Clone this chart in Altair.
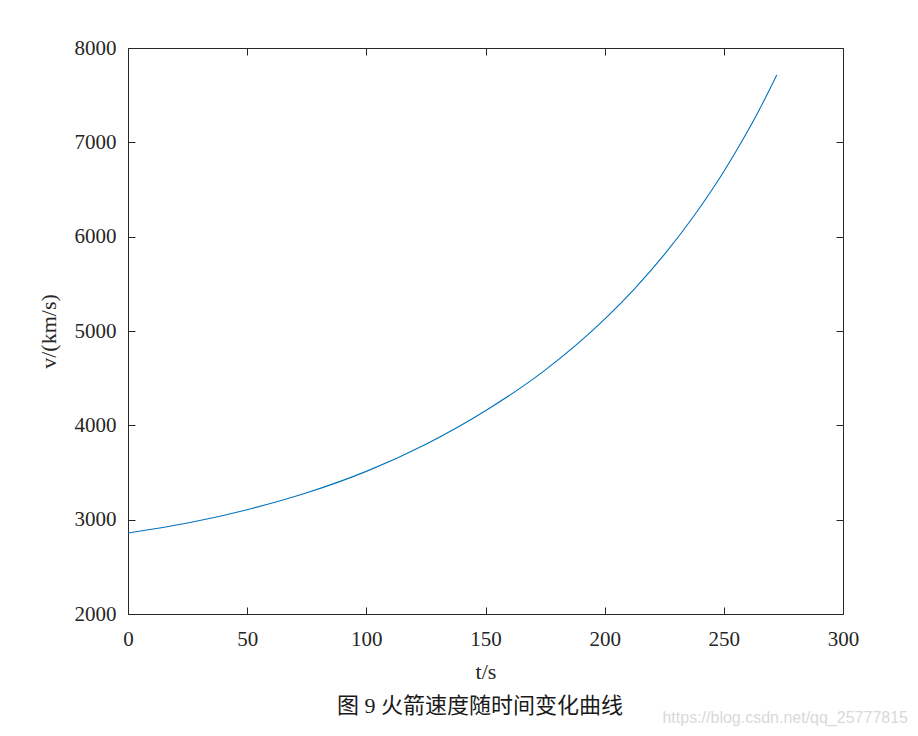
import altair as alt
import pandas as pd

# values
t_s = [0, 25, 50, 75, 100, 125, 150, 175, 200, 212.5, 225, 237.5, 250, 258, 265, 272.2]
v_kms = [2858, 2964, 3106, 3285, 3512, 3800, 4155, 4585, 5125, 5447, 5810, 6222, 6691, 7029, 7351, 7714]
x_ticks = [0, 50, 100, 150, 200, 250, 300]
y_ticks = [2000, 3000, 4000, 5000, 6000, 7000, 8000]
x_title = "t/s"
y_title = "v/(km/s)"
caption = ["图 9 火箭速度随时间变化曲线"]
watermark = ["https://blog.csdn.net/qq_25777815"]

df = pd.DataFrame({"t": t_s, "v": v_kms})
wm = pd.DataFrame({"txt": watermark})
cap = pd.DataFrame({"txt": caption})

AX = "#262626"
FONT = "Liberation Serif"

xs = alt.Scale(domain=[0, 300], nice=False, zero=False)
ys = alt.Scale(domain=[2000, 8000], nice=False, zero=False)

common = dict(
    grid=False, domainColor=AX, tickColor=AX, labelColor=AX, titleColor=AX,
    labelFont=FONT, titleFont=FONT, labelFontSize=21, titleFontSize=22,
    titleFontWeight="normal", tickSize=alt.ExprRef(expr="-7"),
    domainWidth=1, tickWidth=1, format="d", labelFlush=False,
)

line = alt.Chart(df).mark_line(color="#0072BD", strokeWidth=1.1, interpolate="monotone").encode(
    x=alt.X("t:Q", scale=xs, axis=alt.Axis(values=x_ticks, title=x_title,
                                           labelPadding=21, titlePadding=12, **common)),
    y=alt.Y("v:Q", scale=ys, axis=alt.Axis(values=y_ticks, title=y_title,
                                           labelPadding=19, titlePadding=14, **common)),
)

frame = alt.Chart(df).mark_line(opacity=0).encode(
    x=alt.X("t:Q", scale=xs, axis=alt.Axis(orient="top", values=x_ticks, labels=False,
                                           title=None, **common)),
    y=alt.Y("v:Q", scale=ys, axis=alt.Axis(orient="right", values=y_ticks, labels=False,
                                           title=None, **common)),
)

mark_cap = alt.Chart(cap).mark_text(
    align="center", baseline="middle", font="Liberation Serif, Noto Sans CJK SC",
    fontSize=22, color="#1a1a1a"
).encode(x=alt.value(352), y=alt.value(658), text="txt:N")

mark_wm = alt.Chart(wm).mark_text(
    align="right", baseline="middle", font="Liberation Sans", fontSize=16, color="#d9d9d9"
).encode(x=alt.value(780), y=alt.value(670), text="txt:N")

chart = (
    alt.layer(line, frame, mark_cap, mark_wm)
    .resolve_axis(x="independent", y="independent")
    .properties(
        width=715, height=566,
        padding={"left": 120, "top": 40, "right": 67, "bottom": 114},
        autosize=alt.AutoSizeParams(type="none"),
    )
    .configure_view(stroke="transparent")
    .configure(background="white")
)

chart.save("out.html", embed_options={"renderer": "svg", "actions": False})
